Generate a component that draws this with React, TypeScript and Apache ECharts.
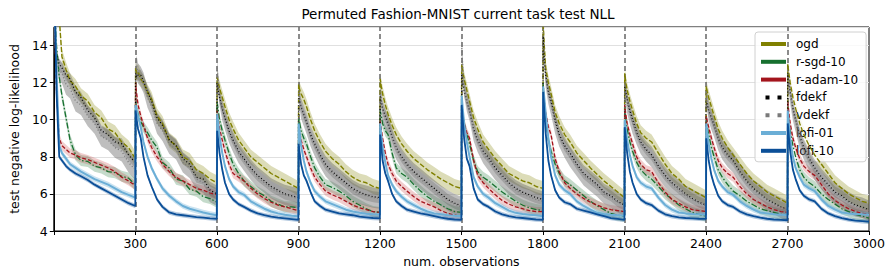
import React, { useEffect, useRef } from "react";
import * as echarts from "echarts";

// ---------- data ----------
const TASK_LEN = 300;
const N_TASKS = 10;
const OFFSETS = [1, 5, 10, 20, 30, 45, 60, 80, 100, 125, 150, 175, 200, 225, 250, 275, 300];
const TASK_BOUNDARIES = [300, 600, 900, 1200, 1500, 1800, 2100, 2400, 2700];
const X_MIN = 0;
const X_MAX = 3000;
const X_INTERVAL = 300;
const Y_MIN = 4;
const Y_MAX = 15;
const Y_INTERVAL = 2;

const SERIES_NAMES = ["ogd", "r-sgd-10", "r-adam-10", "fdekf", "vdekf", "lofi-01", "lofi-10"];

const OGD = [
  [18, 18, 17, 15.5, 13.4, 12.7, 12.1, 11.8, 11.3, 11.0, 10.4, 10.1, 9.5, 9.3, 8.8, 8.5, 7.9],
  [12.8, 12.5, 12.6, 12.2, 12.0, 11.5, 11.1, 10.2, 9.8, 8.9, 8.6, 8.0, 7.8, 7.3, 7.1, 6.8, 6.6],
  [12.3, 12.0, 11.7, 11.2, 10.7, 10.0, 9.5, 8.9, 8.5, 8.0, 7.7, 7.4, 7.1, 6.9, 6.7, 6.5, 6.3],
  [11.9, 11.6, 11.4, 11.1, 10.7, 10.0, 9.4, 8.8, 8.3, 7.9, 7.6, 7.2, 6.9, 6.7, 6.6, 6.4, 6.3],
  [12.2, 11.8, 11.4, 10.8, 10.3, 9.7, 9.2, 8.7, 8.3, 7.9, 7.6, 7.3, 7.05, 6.8, 6.6, 6.4, 6.3],
  [13.0, 12.6, 12.2, 11.6, 11.0, 10.1, 9.5, 8.8, 8.4, 7.9, 7.5, 7.1, 6.9, 6.7, 6.6, 6.4, 6.3],
  [15.2, 14.0, 12.8, 12.0, 11.4, 10.4, 9.8, 9.2, 8.8, 8.2, 7.8, 7.4, 7.05, 6.7, 6.4, 6.1, 5.8],
  [12.5, 12.0, 11.6, 11.0, 10.5, 9.8, 9.3, 9.0, 8.8, 8.2, 7.6, 7.1, 6.8, 6.4, 6.2, 6.0, 5.8],
  [11.8, 11.5, 11.2, 10.7, 10.2, 9.5, 9.0, 8.5, 8.1, 7.6, 7.1, 6.7, 6.4, 6.1, 5.9, 5.7, 5.5],
  [13.0, 12.5, 12.0, 11.2, 10.6, 9.8, 9.2, 8.6, 8.1, 7.6, 7.1, 6.6, 6.3, 6.0, 5.8, 5.6, 5.5],
];

const RSGD = [
  [16, 15.5, 14.0, 12.3, 11.3, 10.1, 8.9, 8.1, 7.8, 7.75, 7.5, 7.4, 7.2, 7.15, 6.95, 6.85, 6.5],
  [11.0, 10.6, 10.3, 9.9, 9.6, 9.3, 8.9, 8.5, 7.7, 7.4, 6.8, 6.7, 6.25, 6.15, 5.85, 5.75, 5.55],
  [11.0, 10.5, 10.0, 9.4, 8.9, 8.2, 7.6, 7.1, 6.7, 6.4, 6.1, 5.9, 5.6, 5.45, 5.3, 5.3, 5.25],
  [10.1, 9.8, 9.4, 9.0, 8.7, 8.0, 7.4, 6.9, 6.5, 6.35, 6.15, 5.9, 5.6, 5.4, 5.2, 5.05, 5.0],
  [10.5, 10.2, 9.8, 9.4, 9.2, 8.2, 7.4, 7.1, 6.9, 6.5, 6.15, 5.85, 5.6, 5.4, 5.2, 5.05, 5.0],
  [11.0, 10.4, 9.8, 9.2, 8.7, 7.8, 7.2, 6.9, 6.7, 6.4, 6.1, 5.85, 5.6, 5.4, 5.25, 5.15, 5.1],
  [12.0, 11.0, 10.0, 8.9, 8.3, 7.6, 7.1, 6.7, 6.5, 6.2, 5.9, 5.6, 5.35, 5.15, 4.95, 4.85, 4.8],
  [10.5, 10.0, 9.5, 8.8, 8.3, 7.7, 7.3, 7.0, 6.8, 6.4, 6.0, 5.7, 5.4, 5.2, 5.0, 4.9, 4.8],
  [10.0, 9.6, 9.2, 8.5, 8.0, 7.3, 6.9, 6.5, 6.15, 5.9, 5.6, 5.4, 5.2, 5.1, 5.0, 4.9, 4.85],
  [10.5, 10.0, 9.4, 8.6, 8.0, 7.3, 6.9, 6.6, 6.4, 6.0, 5.7, 5.45, 5.2, 5.05, 4.9, 4.8, 4.7],
];

const RADAM = [
  [16, 14, 11.5, 9.0, 8.6, 8.4, 8.2, 8.1, 7.95, 7.85, 7.7, 7.55, 7.4, 7.2, 6.9, 6.7, 6.45],
  [12.0, 11.4, 10.8, 10.2, 9.7, 9.0, 8.5, 8.0, 7.6, 7.2, 6.9, 6.7, 6.5, 6.3, 6.2, 6.05, 5.95],
  [10.5, 10.0, 9.5, 8.9, 8.3, 7.6, 7.1, 6.9, 6.7, 6.3, 6.0, 5.75, 5.55, 5.4, 5.3, 5.2, 5.1],
  [9.6, 9.3, 8.9, 8.4, 8.0, 7.4, 6.9, 6.5, 6.15, 5.95, 5.8, 5.6, 5.4, 5.25, 5.15, 5.05, 5.0],
  [10.0, 9.5, 9.0, 8.2, 7.6, 7.1, 6.7, 6.4, 6.15, 5.85, 5.6, 5.45, 5.3, 5.1, 4.95, 4.85, 4.8],
  [10.8, 10.2, 9.8, 9.3, 9.0, 7.8, 7.0, 6.6, 6.3, 5.95, 5.65, 5.45, 5.3, 5.2, 5.1, 5.05, 5.05],
  [11.8, 11.0, 10.4, 9.6, 9.2, 7.9, 7.2, 6.6, 6.3, 6.0, 5.75, 5.55, 5.4, 5.25, 5.15, 5.1, 5.05],
  [10.8, 10.3, 9.8, 9.2, 8.7, 8.0, 7.6, 7.3, 7.2, 6.6, 6.1, 5.7, 5.5, 5.3, 5.15, 5.1, 5.05],
  [10.2, 9.9, 9.6, 9.0, 8.5, 7.8, 7.4, 7.1, 6.9, 6.4, 6.0, 5.7, 5.5, 5.3, 5.15, 5.05, 5.0],
  [11.0, 10.4, 9.8, 9.0, 8.5, 7.9, 7.5, 7.2, 7.0, 6.5, 6.0, 5.65, 5.4, 5.2, 5.05, 4.95, 4.9],
];

const FDEKF = [
  [16, 14.5, 13.5, 13.0, 12.8, 12.4, 12.2, 11.5, 11.2, 10.5, 10.1, 9.4, 9.2, 8.8, 8.7, 8.1, 7.7],
  [12.5, 12.3, 12.4, 12.4, 12.1, 11.5, 11.0, 10.1, 9.7, 8.9, 8.6, 7.9, 7.6, 6.9, 6.8, 6.2, 6.0],
  [12.0, 11.6, 11.2, 10.6, 10.1, 9.4, 8.9, 8.3, 7.9, 7.4, 7.0, 6.7, 6.4, 6.2, 6.0, 5.9, 5.8],
  [11.2, 11.0, 10.7, 10.3, 9.9, 9.2, 8.7, 8.1, 7.6, 7.2, 6.9, 6.6, 6.3, 6.1, 5.95, 5.85, 5.8],
  [11.3, 11.0, 10.6, 10.2, 9.8, 9.1, 8.5, 8.0, 7.6, 7.2, 6.9, 6.6, 6.3, 6.0, 5.7, 5.5, 5.35],
  [12.5, 12.0, 11.6, 11.0, 10.5, 9.5, 8.9, 8.3, 7.95, 7.4, 7.0, 6.6, 6.3, 6.1, 5.95, 5.8, 5.7],
  [14.5, 13.2, 12.4, 11.5, 11.0, 10.0, 9.2, 8.6, 8.2, 7.6, 7.1, 6.8, 6.5, 6.1, 5.9, 5.6, 5.4],
  [11.8, 11.5, 11.1, 10.5, 10.0, 9.3, 8.8, 8.4, 8.1, 7.5, 7.0, 6.6, 6.3, 6.0, 5.75, 5.55, 5.4],
  [11.0, 10.8, 10.5, 10.1, 9.7, 9.0, 8.5, 8.1, 7.8, 7.2, 6.7, 6.3, 6.0, 5.7, 5.5, 5.3, 5.15],
  [12.5, 12.0, 11.5, 10.6, 10.0, 9.1, 8.5, 7.9, 7.4, 6.9, 6.5, 6.1, 5.9, 5.6, 5.4, 5.3, 5.15],
];

const VDEKF = [
  [16, 14.2, 13.2, 12.7, 12.5, 11.9, 11.7, 11.0, 10.8, 10.2, 9.8, 9.1, 8.9, 8.5, 8.3, 7.7, 7.3],
  [12.6, 12.9, 12.5, 12.3, 12.0, 11.2, 10.7, 9.8, 9.4, 8.7, 8.4, 7.7, 7.4, 6.8, 6.6, 6.1, 5.9],
  [12.8, 12.0, 11.3, 10.5, 10.0, 9.3, 8.8, 8.2, 7.8, 7.3, 6.9, 6.6, 6.3, 6.1, 5.95, 5.85, 5.75],
  [11.6, 11.1, 10.6, 10.2, 9.8, 9.1, 8.6, 8.0, 7.5, 7.1, 6.8, 6.5, 6.2, 6.0, 5.9, 5.8, 5.75],
  [11.6, 11.1, 10.5, 10.0, 9.7, 9.0, 8.4, 7.9, 7.5, 7.1, 6.8, 6.5, 6.2, 5.9, 5.65, 5.45, 5.3],
  [14.0, 12.8, 11.8, 11.0, 10.5, 9.4, 8.8, 8.2, 7.8, 7.3, 6.9, 6.5, 6.2, 6.0, 5.85, 5.7, 5.6],
  [15.2, 13.5, 12.3, 11.4, 10.8, 9.8, 9.1, 8.5, 8.0, 7.5, 7.0, 6.7, 6.4, 6.0, 5.8, 5.55, 5.35],
  [12.0, 11.4, 10.9, 10.3, 9.8, 9.2, 8.7, 8.3, 8.0, 7.4, 6.9, 6.5, 6.2, 5.9, 5.7, 5.5, 5.35],
  [11.5, 11.0, 10.5, 10.0, 9.6, 8.9, 8.4, 8.0, 7.7, 7.1, 6.6, 6.2, 5.95, 5.65, 5.45, 5.25, 5.1],
  [12.8, 12.0, 11.4, 10.5, 9.9, 9.0, 8.4, 7.8, 7.3, 6.8, 6.4, 6.0, 5.8, 5.55, 5.35, 5.25, 5.1],
];

const LOFI01 = [
  [16, 15.3, 12.5, 8.6, 8.2, 7.9, 7.6, 7.4, 7.2, 7.0, 6.8, 6.65, 6.5, 6.3, 6.1, 5.95, 5.8],
  [10.8, 10.5, 10.2, 9.6, 8.8, 8.0, 7.4, 6.8, 6.3, 5.9, 5.6, 5.35, 5.2, 5.1, 5.0, 4.92, 4.85],
  [10.3, 9.8, 9.1, 8.2, 7.5, 6.8, 6.4, 6.1, 5.95, 5.6, 5.4, 5.2, 5.05, 4.95, 4.88, 4.82, 4.8],
  [9.8, 9.3, 8.6, 7.8, 7.2, 6.6, 6.15, 5.85, 5.6, 5.45, 5.3, 5.15, 5.05, 4.98, 4.93, 4.9, 4.88],
  [9.8, 9.2, 8.5, 7.7, 7.0, 6.5, 6.15, 5.85, 5.6, 5.4, 5.2, 5.05, 4.95, 4.9, 4.85, 4.82, 4.8],
  [11.3, 10.6, 9.8, 8.8, 8.0, 6.9, 6.4, 6.0, 5.8, 5.5, 5.3, 5.1, 4.98, 4.92, 4.88, 4.85, 4.8],
  [11.8, 11.2, 10.4, 9.0, 8.0, 7.0, 6.5, 6.2, 6.0, 5.6, 5.35, 5.15, 4.98, 4.92, 4.88, 4.85, 4.82],
  [10.0, 9.5, 8.9, 8.1, 7.5, 6.9, 6.6, 6.4, 6.3, 5.8, 5.4, 5.15, 5.0, 4.95, 4.92, 4.9, 4.88],
  [9.8, 9.3, 8.7, 7.9, 7.3, 6.7, 6.4, 6.1, 5.95, 5.6, 5.35, 5.15, 5.0, 4.95, 4.9, 4.88, 4.85],
  [10.5, 9.8, 9.0, 8.0, 7.4, 6.9, 6.5, 6.3, 6.15, 5.7, 5.35, 5.15, 5.0, 4.95, 4.92, 4.9, 4.88],
];

const LOFI10 = [
  [16, 15.2, 11.5, 8.0, 7.8, 7.5, 7.3, 7.1, 6.95, 6.75, 6.5, 6.3, 6.1, 5.9, 5.7, 5.5, 5.35],
  [10.5, 10.0, 9.5, 9.0, 8.0, 7.0, 6.4, 5.7, 5.3, 5.0, 4.9, 4.85, 4.8, 4.75, 4.72, 4.68, 4.65],
  [9.4, 8.9, 8.2, 7.3, 6.6, 6.0, 5.7, 5.45, 5.3, 5.1, 4.95, 4.85, 4.78, 4.72, 4.68, 4.64, 4.6],
  [8.7, 8.2, 7.6, 7.0, 6.7, 6.1, 5.6, 5.35, 5.15, 5.05, 4.95, 4.9, 4.85, 4.78, 4.74, 4.7, 4.68],
  [9.2, 8.6, 7.8, 7.1, 6.7, 6.0, 5.6, 5.35, 5.15, 5.05, 4.95, 4.88, 4.8, 4.72, 4.66, 4.62, 4.6],
  [10.8, 10.0, 9.0, 7.9, 7.5, 6.3, 5.7, 5.45, 5.3, 5.05, 4.9, 4.8, 4.74, 4.7, 4.66, 4.62, 4.6],
  [11.5, 10.5, 9.3, 7.8, 7.0, 6.2, 5.8, 5.55, 5.45, 5.2, 5.1, 5.0, 4.9, 4.8, 4.7, 4.65, 4.6],
  [9.6, 9.0, 8.2, 7.2, 6.6, 6.0, 5.7, 5.5, 5.4, 5.1, 4.9, 4.8, 4.74, 4.7, 4.68, 4.66, 4.65],
  [9.0, 8.5, 7.8, 7.0, 6.5, 5.9, 5.6, 5.4, 5.3, 5.05, 4.9, 4.8, 4.72, 4.66, 4.62, 4.6, 4.58],
  [9.8, 9.1, 8.3, 7.3, 6.8, 6.2, 5.9, 5.7, 5.6, 5.2, 4.95, 4.8, 4.7, 4.62, 4.56, 4.53, 4.5],
];

// half-width of the shaded variability band for each method
const SPREAD = [0.4, 0.3, 0.25, 0.3, 0.55, 0.15, 0.12];

const SERIES_VALUES = [OGD, RSGD, RADAM, FDEKF, VDEKF, LOFI01, LOFI10];

// ---------- styles ----------
const FONT = "DejaVu Sans";
const STYLES = [
  { color: "#808000", type: [5, 2], width: 1.4, band: "rgba(128,128,0,0.28)", icon: "rect" },
  { color: "#17702f", type: [6, 2, 1.5, 2], width: 1.3, band: "rgba(23,112,47,0.25)", icon: "rect" },
  { color: "#a3141c", type: [4, 2], width: 1.3, band: "rgba(200,60,60,0.25)", icon: "rect" },
  { color: "#000000", type: [1, 2.2], width: 1.3, band: "rgba(0,0,0,0.2)", icon: "dots" },
  { color: "#7a7a7a", type: [1, 2.2], width: 1.3, band: "rgba(110,110,110,0.45)", icon: "dots" },
  { color: "#6baed6", type: "solid", width: 2, band: "rgba(107,174,214,0.35)", icon: "rect" },
  { color: "#0b4f98", type: "solid", width: 1.8, band: "rgba(11,79,152,0.3)", icon: "rect" },
];
const DOTS_ICON = "path://M0,0h5v5h-5zM15,0h5v5h-5z";

function buildPoints(rows: number[][]): number[][] {
  const pts: number[][] = [];
  for (let k = 0; k < N_TASKS; k++) {
    for (let i = 0; i < OFFSETS.length; i++) {
      pts.push([k * TASK_LEN + OFFSETS[i], rows[k][i]]);
    }
  }
  return pts;
}

export default function App() {
  const ref = useRef<HTMLDivElement>(null);

  useEffect(() => {
    if (!ref.current) return;
    const chart = echarts.init(ref.current, undefined, { renderer: "svg" });

    const series: any[] = [];
    // variability bands, one polygon per task, drawn through the axes' scales
    SERIES_NAMES.forEach((name, si) => {
      const rows = SERIES_VALUES[si];
      const s = SPREAD[si];
      const st = STYLES[si];
      const items = [];
      for (let k = 0; k < N_TASKS; k++) {
        items.push([k * TASK_LEN + TASK_LEN / 2, rows[k][8], k]);
      }
      series.push({
        name: name + "__band",
        type: "custom",
        silent: true,
        clip: true,
        z: 2 + si,
        encode: { x: 0, y: 1 },
        data: items,
        renderItem: (params: any, api: any) => {
          const k = api.value(2);
          const upper: number[][] = [];
          const lower: number[][] = [];
          for (let i = 0; i < OFFSETS.length; i++) {
            const x = k * TASK_LEN + OFFSETS[i];
            upper.push(api.coord([x, rows[k][i] + s]));
            lower.push(api.coord([x, rows[k][i] - s]));
          }
          const points = upper.concat(lower.reverse());
          const cs = params.coordSys;
          return {
            type: "group",
            children: [
              {
                type: "polygon",
                shape: { points },
                style: { fill: st.band },
              },
            ],
            clipPath: {
              type: "rect",
              shape: { x: cs.x, y: cs.y, width: cs.width, height: cs.height },
            },
          };
        },
      });
    });
    SERIES_NAMES.forEach((name, si) => {
      const pts = buildPoints(SERIES_VALUES[si]);
      const st = STYLES[si];
      series.push({
        name,
        type: "line",
        data: pts,
        showSymbol: false,
        color: st.color,
        lineStyle: { color: st.color, width: st.width, type: st.type as any },
        z: 10 + si,
      });
    });
    series.push({
      name: "__boundaries",
      type: "line",
      data: [],
      silent: true,
      z: 30,
      markLine: {
        silent: true,
        symbol: ["none", "none"],
        label: { show: false },
        animation: false,
        lineStyle: { color: "#666666", width: 1.5, type: [5, 3] },
        data: TASK_BOUNDARIES.map((b) => ({ xAxis: b })),
      },
    });

    chart.setOption({
      animation: false,
      backgroundColor: "#ffffff",
      textStyle: { fontFamily: FONT },
      title: {
        text: "Permuted Fashion-MNIST current task test NLL",
        left: 458,
        top: 7,
        padding: 0,
        textAlign: "center",
        textStyle: { fontFamily: FONT, fontSize: 13.5, fontWeight: "normal", color: "#000" },
      },
      grid: {
        left: 50,
        right: 25,
        top: 27,
        bottom: 46,
        show: true,
        borderColor: "#000",
        borderWidth: 1,
        backgroundColor: "rgba(0,0,0,0)",
      },
      legend: {
        orient: "vertical",
        left: 755,
        top: 32,
        padding: [5, 8, 4, 6],
        itemWidth: 25,
        itemHeight: 4,
        itemGap: 3.8,
        backgroundColor: "rgba(255,255,255,0.8)",
        borderColor: "#d0d0d0",
        borderWidth: 1,
        borderRadius: 3,
        textStyle: { fontFamily: FONT, fontSize: 12, color: "#000", lineHeight: 14, padding: [0, 0, 0, 5] },
        data: SERIES_NAMES.map((n, i) => ({
          name: n,
          icon: STYLES[i].icon === "dots" ? DOTS_ICON : "rect",
          itemStyle: { color: STYLES[i].color },
        })),
      },
      xAxis: {
        type: "value",
        min: X_MIN,
        max: X_MAX,
        interval: X_INTERVAL,
        name: "num. observations",
        nameLocation: "middle",
        nameGap: 24,
        nameTextStyle: { fontFamily: FONT, fontSize: 12.5, color: "#000" },
        axisLine: { show: true, lineStyle: { color: "#000", width: 1 } },
        axisTick: { show: true, length: 4, lineStyle: { color: "#000" } },
        axisLabel: {
          fontFamily: FONT,
          fontSize: 12.5,
          color: "#000",
          margin: 6,
          formatter: (v: number) => (v === X_MIN ? "" : String(v)),
        },
        splitLine: { show: false },
      },
      yAxis: {
        type: "value",
        min: Y_MIN,
        max: Y_MAX,
        interval: Y_INTERVAL,
        name: "test negative log-likelihood",
        nameLocation: "middle",
        nameGap: 28,
        nameTextStyle: { fontFamily: FONT, fontSize: 12.5, color: "#000" },
        axisLine: { show: true, lineStyle: { color: "#000", width: 1 } },
        axisTick: { show: true, length: 4, lineStyle: { color: "#000" } },
        axisLabel: {
          fontFamily: FONT,
          fontSize: 12.5,
          color: "#000",
          margin: 6,
          showMaxLabel: false,
        },
        splitLine: { show: true, lineStyle: { color: "#e0e0e0", width: 1 } },
      },
      series,
    });

    return () => chart.dispose();
  }, []);

  return (
    <div
      ref={ref}
      style={{ position: "fixed", left: 0, top: 0, width: 894, height: 277 }}
    />
  );
}
